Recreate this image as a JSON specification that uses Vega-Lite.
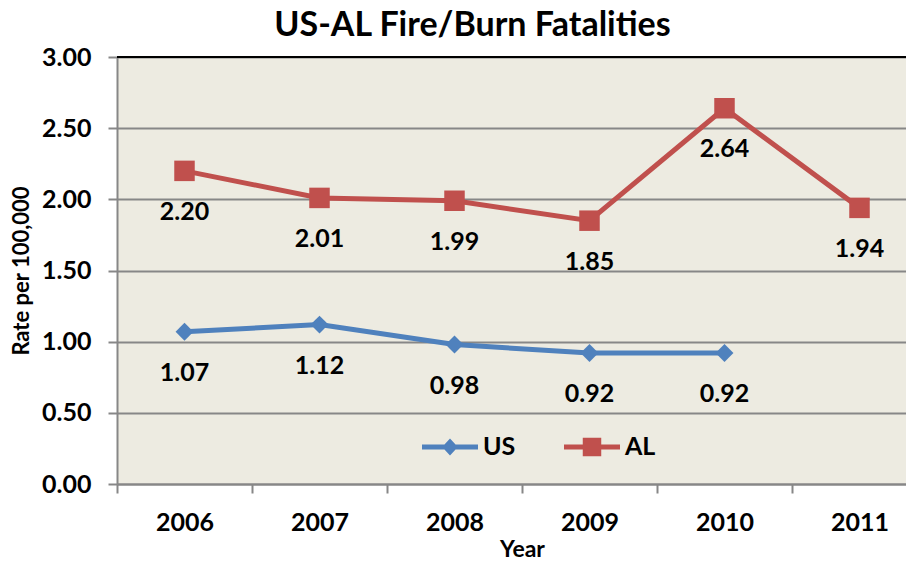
{
  "$schema": "https://vega.github.io/schema/vega-lite/v6.json",
  "width": 789,
  "height": 427,
  "autosize": {"type": "none"},
  "padding": {"left": 117, "top": 57, "right": 0, "bottom": 77},
  "background": "white",
  "title": {
    "text": "US-AL Fire/Burn Fatalities",
    "font": "Lato",
    "fontSize": 34,
    "fontWeight": "bold",
    "color": "black",
    "anchor": "middle",
    "dx": -39,
    "offset": 2
  },
  "config": {
    "view": {"fill": "#EDEBE1", "stroke": null},
    "font": "Lato",
    "axis": {
      "labelFont": "Lato",
      "labelFontWeight": "bold",
      "labelFontSize": 25,
      "labelColor": "black",
      "titleFont": "Lato",
      "titleFontWeight": "bold",
      "titleColor": "black",
      "domainColor": "#878787",
      "domainWidth": 2,
      "tickColor": "#878787",
      "tickWidth": 2,
      "tickSize": 9,
      "gridColor": "#878787",
      "gridWidth": 2
    }
  },
  "data": {
    "values": [
      {"year": "2006", "series": "US", "rate": 1.07},
      {"year": "2007", "series": "US", "rate": 1.12},
      {"year": "2008", "series": "US", "rate": 0.98},
      {"year": "2009", "series": "US", "rate": 0.92},
      {"year": "2010", "series": "US", "rate": 0.92},
      {"year": "2006", "series": "AL", "rate": 2.20},
      {"year": "2007", "series": "AL", "rate": 2.01},
      {"year": "2008", "series": "AL", "rate": 1.99},
      {"year": "2009", "series": "AL", "rate": 1.85},
      {"year": "2010", "series": "AL", "rate": 2.64},
      {"year": "2011", "series": "AL", "rate": 1.94}
    ]
  },
  "encoding": {
    "x": {
      "field": "year",
      "type": "ordinal",
      "scale": {"domain": ["2006", "2007", "2008", "2009", "2010", "2011"], "range": [0, 810], "paddingInner": 0, "paddingOuter": 0},
      "axis": {
        "title": "Year",
        "titleFontSize": 23,
        "titlePadding": 3,
        "labelAngle": 0,
        "labelPadding": 17,
        "tickBand": "extent",
        "grid": false
      }
    },
    "y": {
      "field": "rate",
      "type": "quantitative",
      "scale": {"domain": [0, 3], "nice": false},
      "axis": {
        "title": "Rate per 100,000",
        "titleFontSize": 22,
        "titlePadding": 8,
        "values": [0, 0.5, 1, 1.5, 2, 2.5, 3],
        "format": ".2f",
        "labelPadding": 17,
        "grid": true
      }
    },
    "color": {
      "field": "series",
      "type": "nominal",
      "scale": {"domain": ["US", "AL"], "range": ["#4F81BD", "#C0504D"]},
      "legend": {
        "orient": "none",
        "legendX": 305,
        "legendY": 362,
        "direction": "horizontal",
        "title": null,
        "labelFont": "Lato",
        "labelFontSize": 25,
        "labelFontWeight": "bold",
        "labelColor": "black",
        "labelOffset": 5,
        "columnPadding": 48,
        "padding": 0,
        "symbolSize": 3136,
        "symbolStrokeWidth": 0,
        "symbolOpacity": 1
      }
    }
  },
  "layer": [
    {
      "mark": {"type": "rule", "color": "black", "strokeWidth": 2},
      "encoding": {"y": {"datum": 3}, "x": null, "color": null}
    },
    {
      "mark": {"type": "line", "strokeWidth": 5}
    },
    {
      "mark": {"type": "point", "filled": true, "opacity": 1},
      "encoding": {
        "shape": {"condition": {"test": "datum.series === 'US'", "value": "diamond"}, "value": "square"},
        "size": {"condition": {"test": "datum.series === 'US'", "value": 320}, "value": 420}
      }
    },
    {
      "mark": {"type": "point", "filled": true, "opacity": 0, "size": 3136},
      "encoding": {
        "shape": {
          "field": "series",
          "type": "nominal",
          "scale": {"domain": ["US", "AL"], "range": [
            "M-1,-0.085H1V0.085H-1Z M0,-0.3L0.28,0L0,0.3L-0.28,0Z",
            "M-1,-0.085H1V0.085H-1Z M-0.33,-0.33H0.33V0.33H-0.33Z"
          ]},
          "legend": {
            "orient": "none",
            "legendX": 305,
            "legendY": 362,
            "direction": "horizontal",
            "title": null,
            "labelFont": "Lato",
            "labelFontSize": 25,
            "labelFontWeight": "bold",
            "labelColor": "black",
            "labelOffset": 5,
            "columnPadding": 48,
            "padding": 0,
            "symbolSize": 3136,
            "symbolStrokeWidth": 0,
            "symbolOpacity": 1
          }
        }
      }
    },
    {
      "mark": {"type": "text", "dy": 41, "font": "Lato", "fontSize": 25, "fontWeight": "bold", "color": "black"},
      "encoding": {
        "text": {"field": "rate", "type": "quantitative", "format": ".2f"},
        "color": null
      }
    }
  ]
}
